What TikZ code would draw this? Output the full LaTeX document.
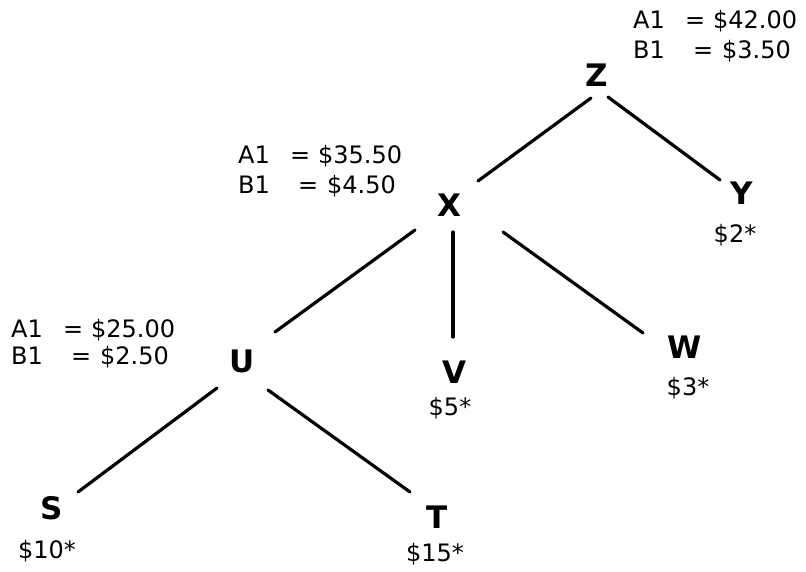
\documentclass[tikz,border=0pt]{standalone}
\usepackage{fontspec}
\setmainfont{DejaVu Sans}
\usetikzlibrary{calc}
\tikzset{
  letter/.style={inner sep=0pt, anchor=center, font=\fontsize{31}{36}\selectfont\bfseries},
  val/.style={inner sep=0pt, anchor=base, font=\fontsize{24}{29}\selectfont},
  info/.style={inner sep=0pt, anchor=base west, font=\fontsize{24}{29}\selectfont},
  edge/.style={line width=3.2pt, line cap=round}
}
\newcommand{\Aline}[1]{\makebox[52pt][l]{A1}\makebox[28pt][l]{=}\$#1}
\newcommand{\Bline}[1]{\makebox[60pt][l]{B1}\makebox[29pt][l]{=}\$#1}
\begin{document}
\begin{tikzpicture}[x=1pt,y=-1pt]
\useasboundingbox (0,0) rectangle (806,571);
% tree nodes
\node[letter] (Z) at (597,75) {Z};
\node[letter] (X) at (449,205) {X};
\node[letter] (Y) at (742,193) {Y};
\node[letter] (U) at (242,361) {U};
\node[letter] (V) at (454,372) {V};
\node[letter] (W) at (685,347) {W};
\node[letter] (S) at (52,508) {S};
\node[letter] (T) at (437,517) {T};
% values
\node[val] (vY) at (735,242) {\$2*};
\node[val] (vV) at (450,415) {\$5*};
\node[val] (vW) at (688,395) {\$3*};
\node[val] (vT) at (435,561) {\$15*};
\node[val] (vS) at (47,558) {\$10*};
% info labels
\node[info] (aZ) at (633,28) {\Aline{42.00}};
\node[info] (bZ) at (633,58) {\Bline{3.50}};
\node[info] (aX) at (238,163) {\Aline{35.50}};
\node[info] (bX) at (238,193) {\Bline{4.50}};
\node[info] (aU) at (11,337) {\Aline{25.00}};
\node[info] (bU) at (11,364) {\Bline{2.50}};
% connectors
\draw[edge] ($(Z)+(-6,23)$) -- ($(X)+(29,-24)$);
\draw[edge] ($(Z)+(11,22)$) -- ($(Y)+(-22,-13)$);
\draw[edge] ($(X)+(-34,25)$) -- ($(U)+(33,-29)$);
\draw[edge] ($(X)+(4,27)$) -- ($(V)+(-1,-35)$);
\draw[edge] ($(X)+(54,27)$) -- ($(W)+(-42,-14)$);
\draw[edge] ($(U)+(-25,27)$) -- ($(S)+(26,-16)$);
\draw[edge] ($(U)+(26,29)$) -- ($(T)+(-27,-25)$);
\end{tikzpicture}
\end{document}
